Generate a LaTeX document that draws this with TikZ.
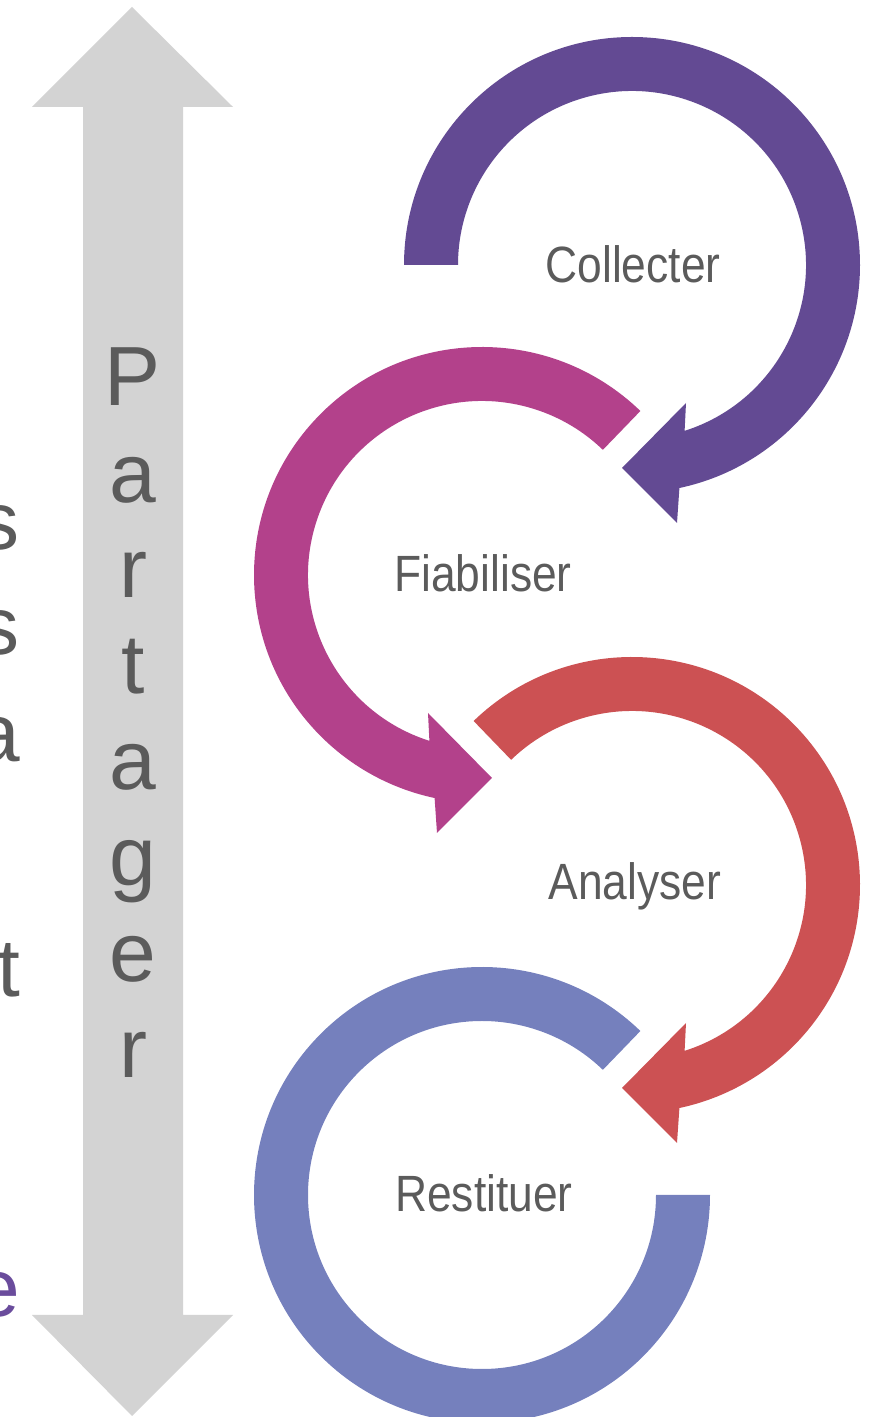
\documentclass[tikz,border=0pt]{standalone}
\usepackage{fontspec}
\setmainfont{Liberation Sans}
\definecolor{ringA}{HTML}{634A93}
\definecolor{ringB}{HTML}{B3418B}
\definecolor{ringC}{HTML}{CC5153}
\definecolor{ringD}{HTML}{7580BD}
\definecolor{arrowgray}{HTML}{D3D3D3}
\definecolor{textgray}{HTML}{5B5B5B}
\definecolor{edgepurple}{HTML}{6A4C9C}
\begin{document}
\begin{tikzpicture}[x=1pt,y=1pt,
  lbl/.style={text=textgray,font=\fontsize{51}{51}\selectfont,inner sep=0pt,anchor=base},
  bigletter/.style={text=textgray,font=\fontsize{84}{84}\selectfont,inner sep=0pt,anchor=base},
  edgeletter/.style={text=textgray,font=\fontsize{82}{82}\selectfont,inner sep=0pt,anchor=base east}]
\useasboundingbox (0,0) rectangle (877,1417);
% grey double arrow
\fill[arrowgray] (132,1410) -- (233,1310) -- (183,1310) -- (183,102) -- (233,102)
  -- (132,1) -- (32,102) -- (83,102) -- (83,1310) -- (32,1310) -- cycle;
% Partager
\node[bigletter] (p1) at (133,1011) {P};
\node[bigletter] (p2) at (133,914) {a};
\node[bigletter] (p3) at (133,819) {r};
\node[bigletter] (p4) at (133,723) {t};
\node[bigletter] (p5) at (133,627) {a};
\node[bigletter] (p6) at (133,531) {g};
\node[bigletter] (p7) at (133,435) {e};
\node[bigletter] (p8) at (133,339) {r};
% letters cut at the left edge
\node[edgeletter] (e1) at (20,867) {s};
\node[edgeletter] (e2) at (20,762) {s};
\node[edgeletter] (e3) at (20,655) {a};
\node[edgeletter] (e4) at (20,420) {t};
\node[edgeletter,text=edgepurple] (e5) at (20,100) {e};
% ring 1
\begin{scope}[shift={(632,1152)}]
\fill[ringA] (180:228) arc[start angle=180,end angle=-78,radius=228]
  -- (45,-258) -- (-10,-203) -- (54,-138) -- (-72.4:174)
  arc[start angle=-72.4,end angle=180,radius=174] -- cycle;
\end{scope}
% ring 2
\begin{scope}[shift={(482,842)}]
\fill[ringB] (46:228) arc[start angle=46,end angle=258,radius=228]
  -- (-45,-258) -- (10,-203) -- (-54,-138) -- (252.4:174)
  arc[start angle=252.4,end angle=46,radius=174] -- cycle;
\end{scope}
% ring 3
\begin{scope}[shift={(632,532)}]
\fill[ringC] (134:228) arc[start angle=134,end angle=-78,radius=228]
  -- (45,-258) -- (-10,-203) -- (54,-138) -- (-72.4:174)
  arc[start angle=-72.4,end angle=134,radius=174] -- cycle;
\end{scope}
% ring 4
\begin{scope}[shift={(482,222)}]
\fill[ringD] (46:228) arc[start angle=46,end angle=360,radius=228]
  -- (0:174) arc[start angle=360,end angle=46,radius=174] -- cycle;
\end{scope}
% labels
\node[lbl] (collecter) at (633,1134) {\scalebox{0.87}[1]{Collecter}};
\node[lbl] (fiabiliser) at (483,825) {\scalebox{0.87}[1]{Fiabiliser}};
\node[lbl] (analyser) at (635,517) {\scalebox{0.87}[1]{Analyser}};
\node[lbl] (restituer) at (484,205) {\scalebox{0.87}[1]{Restituer}};
\end{tikzpicture}
\end{document}
